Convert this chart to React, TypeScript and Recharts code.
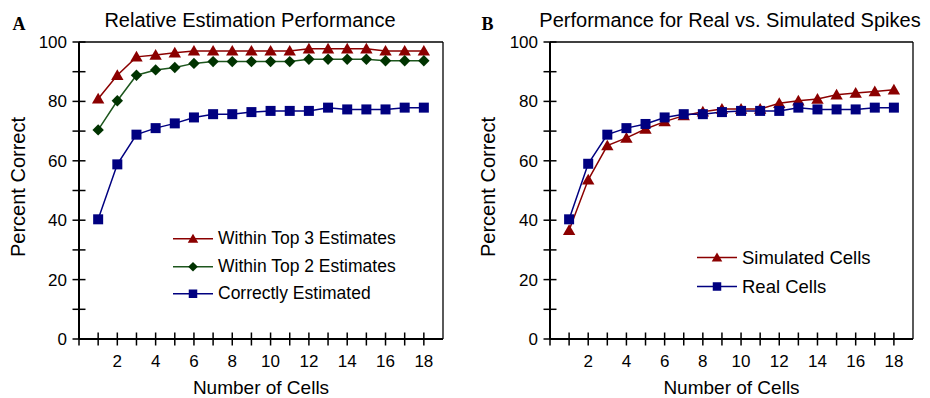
import React from 'react';
import { LineChart, Line, XAxis, YAxis, Legend, ReferenceLine } from 'recharts';

// number of cells on the x axis
const cells = [1, 2, 3, 4, 5, 6, 7, 8, 9, 10, 11, 12, 13, 14, 15, 16, 17, 18];
const xTicks = [0, 1, 2, 3, 4, 5, 6, 7, 8, 9, 10, 11, 12, 13, 14, 15, 16, 17, 18];
const yTicks = [0, 10, 20, 30, 40, 50, 60, 70, 80, 90, 100];

// panel A
const withinTop3 = [80.9, 88.8, 95.0, 95.6, 96.4, 97.0, 97.0, 97.0, 97.0, 97.0, 97.0, 97.7, 97.7, 97.7, 97.7, 97.0, 97.0, 97.0];
const withinTop2 = [70.4, 80.2, 88.8, 90.6, 91.4, 92.8, 93.4, 93.4, 93.4, 93.4, 93.4, 94.2, 94.2, 94.2, 94.2, 93.7, 93.7, 93.7];
const correctlyEstimated = [40.3, 58.8, 68.8, 71.0, 72.6, 74.6, 75.7, 75.7, 76.4, 76.8, 76.8, 76.8, 77.9, 77.3, 77.3, 77.3, 77.9, 77.9];

// panel B
const simulatedCells = [36.6, 53.6, 65.1, 67.7, 70.7, 73.2, 75.2, 76.5, 77.4, 77.4, 77.4, 79.4, 80.2, 80.8, 82.2, 82.8, 83.3, 83.9];
const realCells = [40.3, 59.0, 68.8, 71.0, 72.4, 74.6, 75.7, 75.7, 76.4, 76.8, 76.8, 76.8, 77.9, 77.3, 77.3, 77.3, 77.9, 77.9];

const RED = '#8b0000';
const GREEN = '#1d561d';
const GREEN_DOT = '#003300';
const BLUE = '#000080';
const FONT = '"Liberation Sans", Arial, sans-serif';
const SERIF = '"Liberation Serif", "Times New Roman", serif';

const dataA = cells.map((c, i) => ({
  cells: c,
  top3: withinTop3[i],
  top2: withinTop2[i],
  correct: correctlyEstimated[i],
}));

const dataB = cells.map((c, i) => ({
  cells: c,
  simulated: simulatedCells[i],
  real: realCells[i],
}));

type Shape = 'triangle' | 'diamond' | 'square';

const Marker = ({ shape, cx, cy, color, s = 1 }: { shape: Shape; cx: number; cy: number; color: string; s?: number }) => {
  if (shape === 'triangle') {
    return <path d={`M${cx},${cy - 6 * s} L${cx + 6.2 * s},${cy + 4.7 * s} L${cx - 6.2 * s},${cy + 4.7 * s} Z`} fill={color} />;
  }
  if (shape === 'diamond') {
    return <path d={`M${cx},${cy - 5.7 * s} L${cx + 5.7 * s},${cy} L${cx},${cy + 5.7 * s} L${cx - 5.7 * s},${cy} Z`} fill={color} />;
  }
  return <rect x={cx - 5 * s} y={cy - 5 * s} width={10 * s} height={10 * s} fill={color} />;
};

const dotOf = (shape: Shape, color: string) => (p: any) => (
  <g key={`${shape}-${p.index}`}>
    <Marker shape={shape} cx={p.cx} cy={p.cy} color={color} />
  </g>
);

const XTick = (props: any) => {
  const { x, y, payload } = props;
  const v = payload.value;
  return (
    <g>
      <line x1={x} x2={x} y1={y - 6.5} y2={y + 6.5} stroke="#000" strokeWidth={1.5} />
      {v > 0 && v % 2 === 0 && (
        <text x={x} y={y + 28} textAnchor="middle" fontSize={17} fill="#000" fontFamily={FONT}>
          {v}
        </text>
      )}
    </g>
  );
};

const YTick = (props: any) => {
  const { x, y, payload } = props;
  const v = payload.value;
  return (
    <g>
      <line x1={x - 6.5} x2={x + 6.5} y1={y} y2={y} stroke="#000" strokeWidth={1.5} />
      {v % 20 === 0 && (
        <text x={x - 12} y={y + 6} textAnchor="end" fontSize={17} fill="#000" fontFamily={FONT}>
          {v}
        </text>
      )}
    </g>
  );
};

interface LegendItem {
  label: string;
  color: string;
  dot: string;
  shape: Shape;
}

const LegendBox = ({ items, rowHeight, fontSize }: { items: LegendItem[]; rowHeight: number; fontSize: number }) => (
  <div style={{ fontFamily: FONT }}>
    {items.map((it) => (
      <div key={it.label} style={{ display: 'flex', alignItems: 'center', height: rowHeight }}>
        <svg width={40} height={rowHeight} style={{ display: 'block' }}>
          <line x1={0} x2={40} y1={rowHeight / 2} y2={rowHeight / 2} stroke={it.color} strokeWidth={1.5} />
          <Marker shape={it.shape} cx={20} cy={rowHeight / 2} color={it.dot} s={0.85} />
        </svg>
        <span style={{ marginLeft: 5, fontSize, color: '#000', whiteSpace: 'nowrap' }}>{it.label}</span>
      </div>
    ))}
  </div>
);

const legendA: LegendItem[] = [
  { label: 'Within Top 3 Estimates', color: RED, dot: RED, shape: 'triangle' },
  { label: 'Within Top 2 Estimates', color: GREEN, dot: GREEN_DOT, shape: 'diamond' },
  { label: 'Correctly Estimated', color: BLUE, dot: BLUE, shape: 'square' },
];

const legendB: LegendItem[] = [
  { label: 'Simulated Cells', color: RED, dot: RED, shape: 'triangle' },
  { label: 'Real Cells', color: BLUE, dot: BLUE, shape: 'square' },
];

const axes = (yWidth: number) => [
  <XAxis
    key="x"
    type="number"
    dataKey="cells"
    domain={[0, 19]}
    ticks={xTicks}
    interval={0}
    height={59}
    tickSize={0}
    tickMargin={0}
    tickLine={false}
    tick={(p: any) => <XTick {...p} />}
    axisLine={{ stroke: '#000', strokeWidth: 2 }}
  />,
  <YAxis
    key="y"
    type="number"
    domain={[0, 100]}
    ticks={yTicks}
    interval={0}
    width={yWidth}
    tickSize={0}
    tickMargin={0}
    tickLine={false}
    tick={(p: any) => <YTick {...p} />}
    axisLine={{ stroke: '#000', strokeWidth: 2 }}
  />,
  <ReferenceLine key="top" y={100} stroke="#000" strokeWidth={1.3} />,
  <ReferenceLine key="right" x={19} stroke="#000" strokeWidth={1.3} />,
];

const App: React.FC = () => {
  return (
    <div style={{ position: 'absolute', left: 0, top: 0, width: 930, height: 398, background: '#fff', fontFamily: FONT }}>
      <div style={{ position: 'absolute', left: 0, top: 0 }}>
        <LineChart width={460} height={398} data={dataA} margin={{ top: 42, right: 17, bottom: 0, left: 0 }}>
          {axes(79)}
          <Legend
            layout="vertical"
            align="center"
            verticalAlign="middle"
            wrapperStyle={{ left: 173, top: 225, width: 'auto' }}
            content={() => <LegendBox items={legendA} rowHeight={27.5} fontSize={17.5} />}
          />
          <Line type="linear" dataKey="top3" stroke={RED} strokeWidth={1.5} dot={dotOf('triangle', RED)} isAnimationActive={false} />
          <Line type="linear" dataKey="top2" stroke={GREEN} strokeWidth={1.5} dot={dotOf('diamond', GREEN_DOT)} isAnimationActive={false} />
          <Line type="linear" dataKey="correct" stroke={BLUE} strokeWidth={1.5} dot={dotOf('square', BLUE)} isAnimationActive={false} />
        </LineChart>
      </div>
      <div style={{ position: 'absolute', left: 460, top: 0 }}>
        <LineChart width={470} height={398} data={dataB} margin={{ top: 42, right: 17, bottom: 0, left: 0 }}>
          {axes(90)}
          <Legend
            layout="vertical"
            align="center"
            verticalAlign="middle"
            wrapperStyle={{ left: 237, top: 243, width: 'auto' }}
            content={() => <LegendBox items={legendB} rowHeight={29} fontSize={18.5} />}
          />
          <Line type="linear" dataKey="simulated" stroke={RED} strokeWidth={1.5} dot={dotOf('triangle', RED)} isAnimationActive={false} />
          <Line type="linear" dataKey="real" stroke={BLUE} strokeWidth={1.5} dot={dotOf('square', BLUE)} isAnimationActive={false} />
        </LineChart>
      </div>
      <svg width={930} height={398} style={{ position: 'absolute', left: 0, top: 0, pointerEvents: 'none' }}>
        <text x={12.5} y={30} fontFamily={SERIF} fontWeight="bold" fontSize={18}>A</text>
        <text x={481.5} y={30} fontFamily={SERIF} fontWeight="bold" fontSize={18}>B</text>
        <text x={250} y={27} textAnchor="middle" fontSize={20} fontFamily={FONT}>Relative Estimation Performance</text>
        <text x={730} y={27} textAnchor="middle" fontSize={20} fontFamily={FONT}>Performance for Real vs. Simulated Spikes</text>
        <text transform="translate(24.7,187) rotate(-90)" textAnchor="middle" fontSize={20} fontFamily={FONT}>Percent Correct</text>
        <text transform="translate(494.7,187) rotate(-90)" textAnchor="middle" fontSize={20} fontFamily={FONT}>Percent Correct</text>
        <text x={261} y={394} textAnchor="middle" fontSize={19} fontFamily={FONT}>Number of Cells</text>
        <text x={731.5} y={394} textAnchor="middle" fontSize={19} fontFamily={FONT}>Number of Cells</text>
      </svg>
    </div>
  );
};

export default App;
